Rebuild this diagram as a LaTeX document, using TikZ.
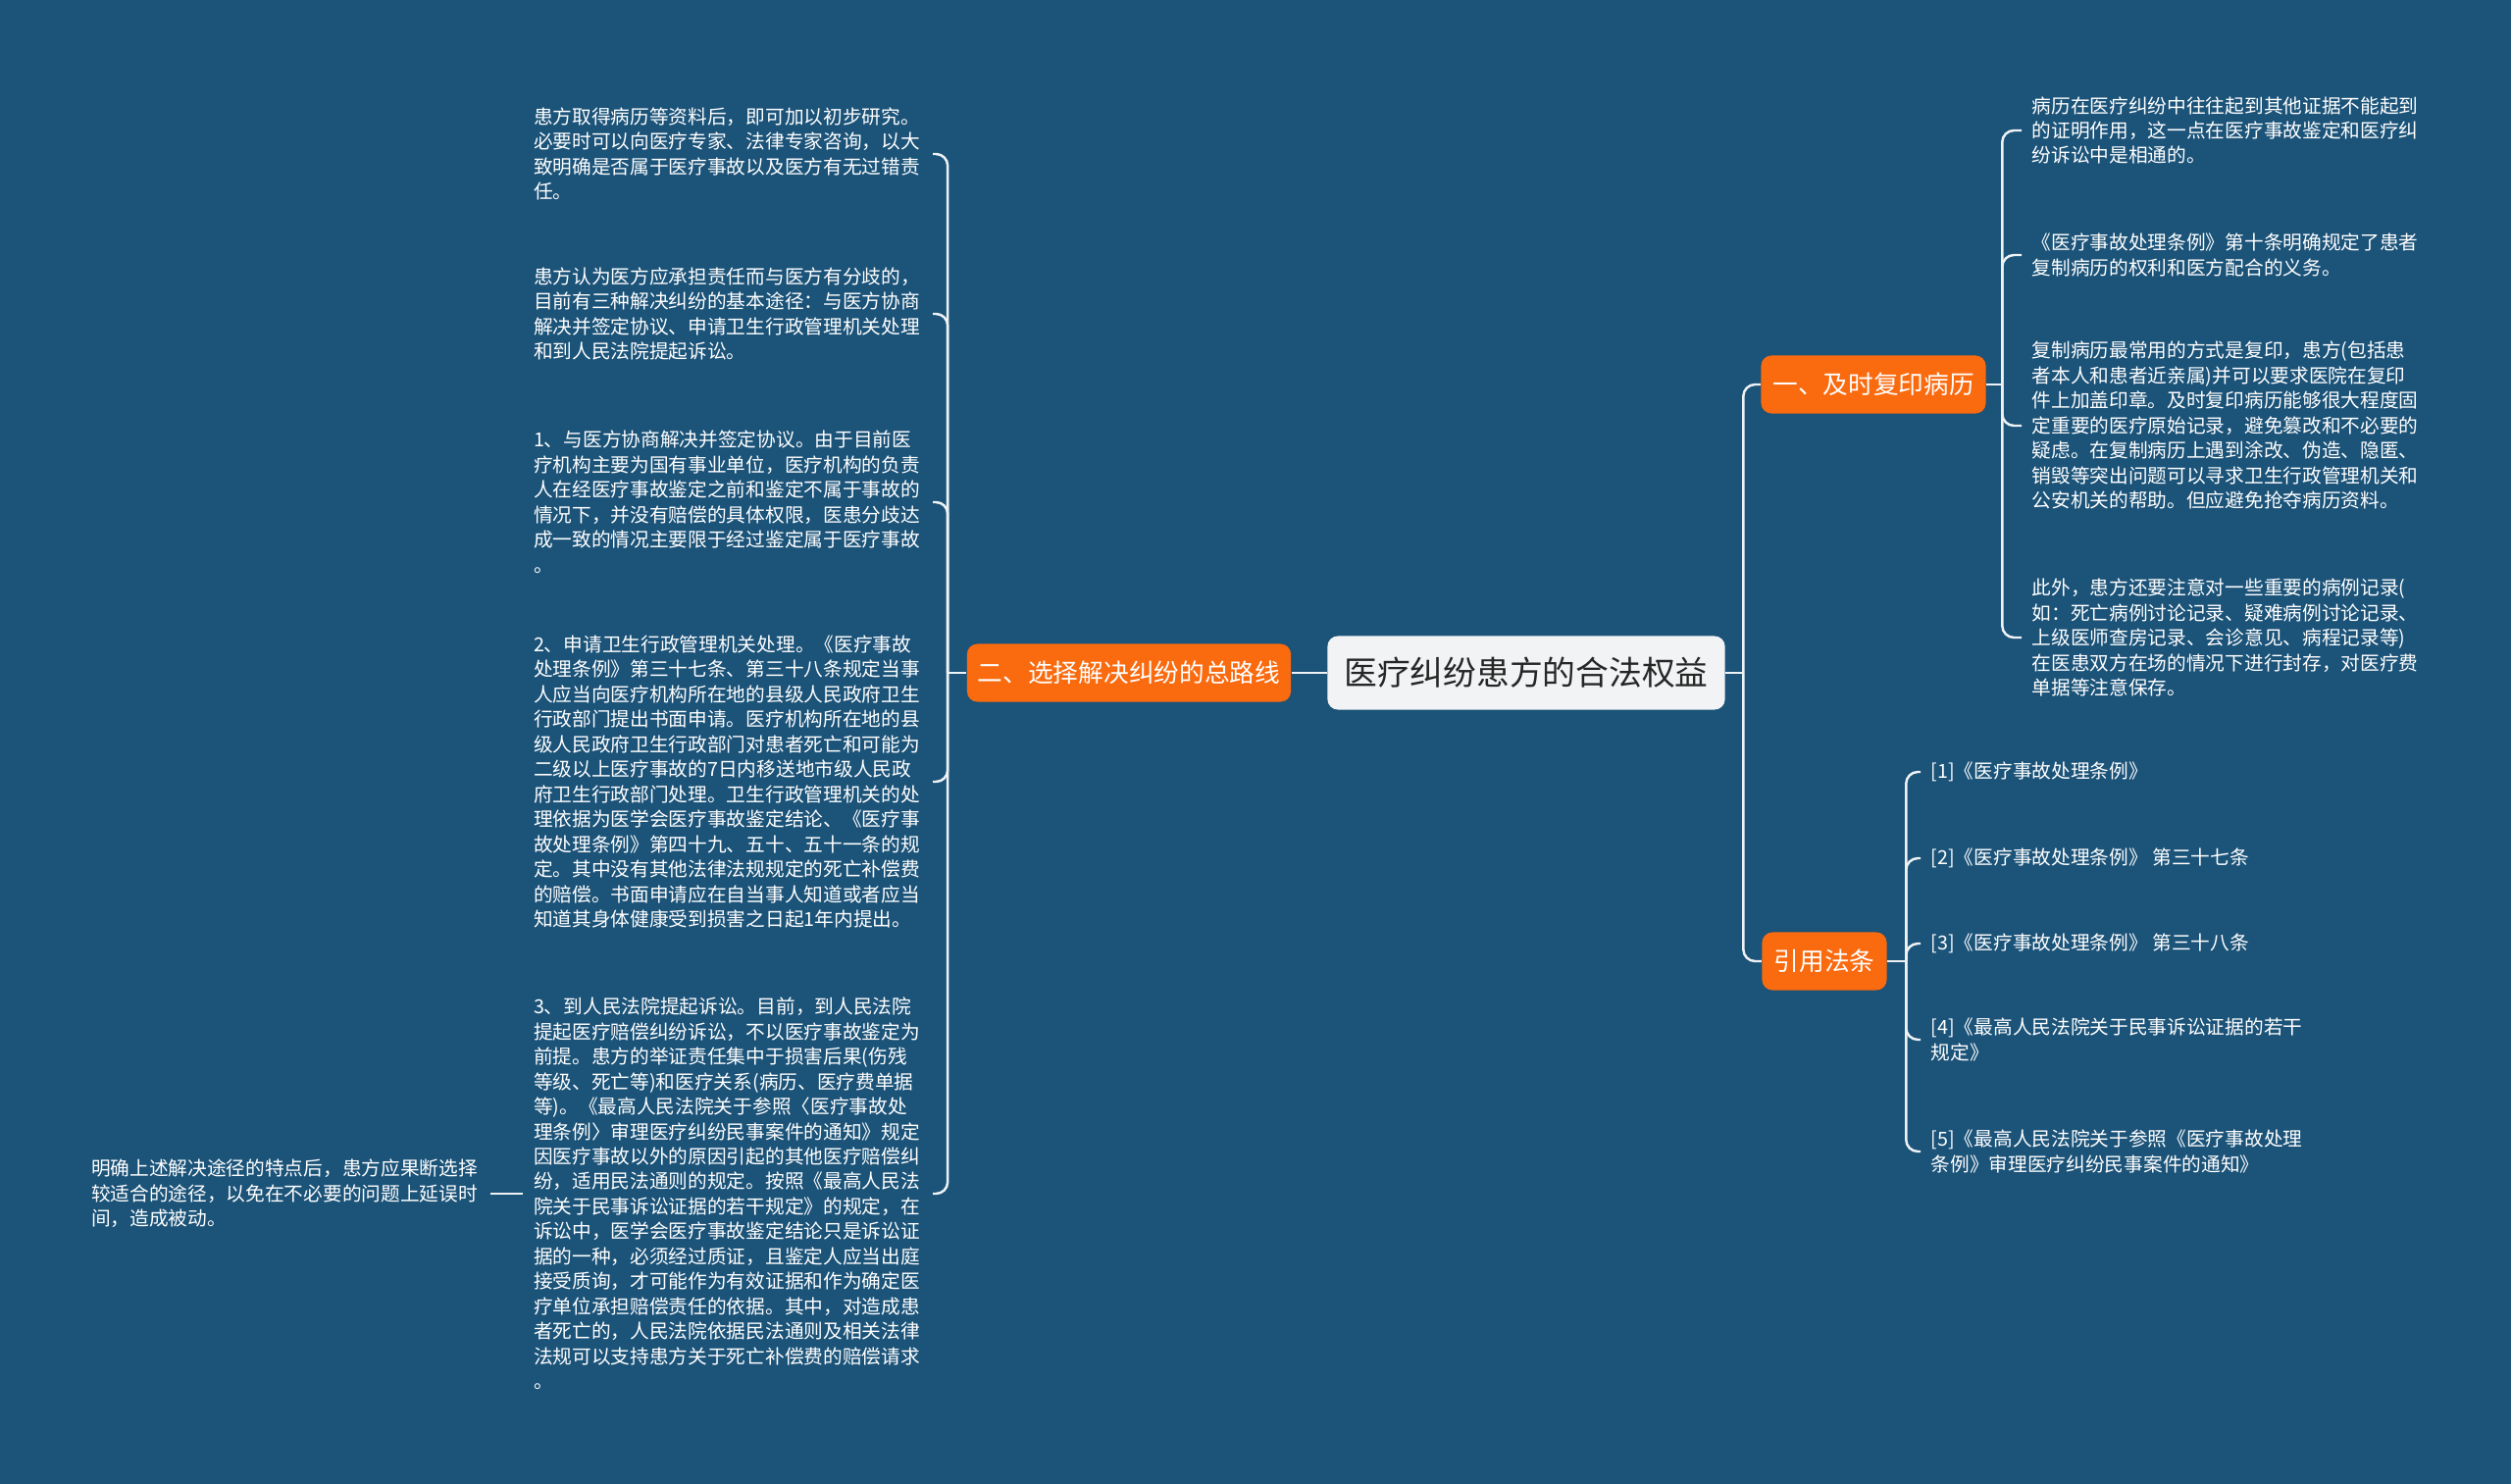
\documentclass[tikz,border=0pt]{standalone}
\usepackage{fontspec}
\setmainfont{Noto Sans CJK SC}
\usetikzlibrary{calc}
\definecolor{mapbg}{HTML}{1B5379}
\definecolor{maporange}{HTML}{FA6A0E}
\definecolor{maproot}{HTML}{F2F3F4}
\definecolor{mapline}{HTML}{EEF2F5}
\newcommand\leaffont{\fontsize{5.6}{7.25}\selectfont}
\newcommand\topicfont{\fontsize{7.3}{9}\selectfont}
\newcommand\rootfont{\fontsize{9.6}{11}\selectfont}

\begin{document}
\begin{tikzpicture}[x=0.01cm,y=-0.01cm,
root/.style={fill=maproot,rounded corners=3pt,text=black!85,font=\rootfont,
minimum width=4.05cm,minimum height=0.75cm,inner sep=0pt},
topic/.style={fill=maporange,rounded corners=3pt,text=white,font=\topicfont,
minimum height=0.59cm,inner sep=0pt},
leaf/.style={align=left,text width=3.96cm,inner xsep=0.1cm,font=\leaffont,text=white},
refleaf/.style={align=left,inner xsep=0.1cm,font=\leaffont,text=white},
link/.style={draw=mapline,line width=0.7pt,rounded corners=0.12cm}
]
\fill[mapbg] (0,0) rectangle (2560,1513);
\useasboundingbox (0,0) rectangle (2560,1513);

% centre and main topics
\node[root] (root) at (1556,686) {医疗纠纷患方的合法权益};
\node[topic,minimum width=3.30cm] (route) at (1151,686) {二、选择解决纠纷的总路线};
\node[topic,minimum width=2.29cm] (copy) at (1910,392) {一、及时复印病历};
\node[topic,minimum width=1.27cm] (law) at (1860,980) {引用法条};

\coordinate (jr) at ([xshift=-0.19cm]route.west);
\coordinate (jc) at ([xshift=0.18cm]root.east);
\coordinate (jy) at ([xshift=0.16cm]copy.east);
\coordinate (jl) at ([xshift=0.19cm]law.east);

% left side
\node[leaf,anchor=east] (way1) at (951,157) {患方取得病历等资料后，即可加以初步研究。\\必要时可以向医疗专家、法律专家咨询，以大\\致明确是否属于医疗事故以及医方有无过错责\\任。};
\node[leaf,anchor=east] (way2) at (951,320) {患方认为医方应承担责任而与医方有分歧的，\\目前有三种解决纠纷的基本途径：与医方协商\\解决并签定协议、申请卫生行政管理机关处理\\和到人民法院提起诉讼。};
\node[leaf,anchor=east] (way3) at (951,512) {1、与医方协商解决并签定协议。由于目前医\\疗机构主要为国有事业单位，医疗机构的负责\\人在经医疗事故鉴定之前和鉴定不属于事故的\\情况下，并没有赔偿的具体权限，医患分歧达\\成一致的情况主要限于经过鉴定属于医疗事故\\。};
\node[leaf,anchor=east] (way4) at (951,797) {2、申请卫生行政管理机关处理。《医疗事故\\处理条例》第三十七条、第三十八条规定当事\\人应当向医疗机构所在地的县级人民政府卫生\\行政部门提出书面申请。医疗机构所在地的县\\级人民政府卫生行政部门对患者死亡和可能为\\二级以上医疗事故的7日内移送地市级人民政\\府卫生行政部门处理。卫生行政管理机关的处\\理依据为医学会医疗事故鉴定结论、《医疗事\\故处理条例》第四十九、五十、五十一条的规\\定。其中没有其他法律法规规定的死亡补偿费\\的赔偿。书面申请应在自当事人知道或者应当\\知道其身体健康受到损害之日起1年内提出。};
\node[leaf,anchor=east] (way5) at (951,1217) {3、到人民法院提起诉讼。目前，到人民法院\\提起医疗赔偿纠纷诉讼，不以医疗事故鉴定为\\前提。患方的举证责任集中于损害后果(伤残\\等级、死亡等)和医疗关系(病历、医疗费单据\\等)。《最高人民法院关于参照〈医疗事故处\\理条例〉审理医疗纠纷民事案件的通知》规定\\因医疗事故以外的原因引起的其他医疗赔偿纠\\纷，适用民法通则的规定。按照《最高人民法\\院关于民事诉讼证据的若干规定》的规定，在\\诉讼中，医学会医疗事故鉴定结论只是诉讼证\\据的一种，必须经过质证，且鉴定人应当出庭\\接受质询，才可能作为有效证据和作为确定医\\疗单位承担赔偿责任的依据。其中，对造成患\\者死亡的，人民法院依据民法通则及相关法律\\法规可以支持患方关于死亡补偿费的赔偿请求\\。};
\node[leaf,anchor=east] (tip) at (500,1217) {明确上述解决途径的特点后，患方应果断选择\\较适合的途径，以免在不必要的问题上延误时\\间，造成被动。};

% right side
\node[leaf,anchor=west] (rec1) at (2061,133) {病历在医疗纠纷中往往起到其他证据不能起到\\的证明作用，这一点在医疗事故鉴定和医疗纠\\纷诉讼中是相通的。};
\node[leaf,anchor=west] (rec2) at (2061,260) {《医疗事故处理条例》第十条明确规定了患者\\复制病历的权利和医方配合的义务。};
\node[leaf,anchor=west] (rec3) at (2061,434) {复制病历最常用的方式是复印，患方(包括患\\者本人和患者近亲属)并可以要求医院在复印\\件上加盖印章。及时复印病历能够很大程度固\\定重要的医疗原始记录，避免篡改和不必要的\\疑虑。在复制病历上遇到涂改、伪造、隐匿、\\销毁等突出问题可以寻求卫生行政管理机关和\\公安机关的帮助。但应避免抢夺病历资料。};
\node[leaf,anchor=west] (rec4) at (2061,650) {此外，患方还要注意对一些重要的病例记录(\\如：死亡病例讨论记录、疑难病例讨论记录、\\上级医师查房记录、会诊意见、病程记录等)\\在医患双方在场的情况下进行封存，对医疗费\\单据等注意保存。};

\node[refleaf,anchor=west] (ref1) at (1958,787) {[1]《医疗事故处理条例》};
\node[refleaf,anchor=west] (ref2) at (1958,875) {[2]《医疗事故处理条例》 第三十七条};
\node[refleaf,anchor=west] (ref3) at (1958,962) {[3]《医疗事故处理条例》 第三十八条};
\node[refleaf,anchor=west] (ref4) at (1958,1060) {[4]《最高人民法院关于民事诉讼证据的若干\\规定》};
\node[refleaf,anchor=west] (ref5) at (1958,1174) {[5]《最高人民法院关于参照《医疗事故处理\\条例》审理医疗纠纷民事案件的通知》};

% connectors
\draw[link] (root) -- (route);
\draw[link] (route.west) -- (jr);
\draw[link] (jr) |- (way1.east);
\draw[link] (jr) |- (way2.east);
\draw[link] (jr) |- (way3.east);
\draw[link] (jr) |- (way4.east);
\draw[link] (jr) |- (way5.east);
\draw[link] (way5.west) -- (tip.east);

\draw[link] (root.east) -- (jc);
\draw[link] (jc) |- (copy.west);
\draw[link] (jc) |- (law.west);

\draw[link] (copy.east) -- (jy);
\draw[link] (jy) |- (rec1.west);
\draw[link] (jy) |- (rec2.west);
\draw[link] (jy) |- (rec3.west);
\draw[link] (jy) |- (rec4.west);

\draw[link] (law.east) -- (jl);
\draw[link] (jl) |- (ref1.west);
\draw[link] (jl) |- (ref2.west);
\draw[link] (jl) |- (ref3.west);
\draw[link] (jl) |- (ref4.west);
\draw[link] (jl) |- (ref5.west);
\end{tikzpicture}
\end{document}
